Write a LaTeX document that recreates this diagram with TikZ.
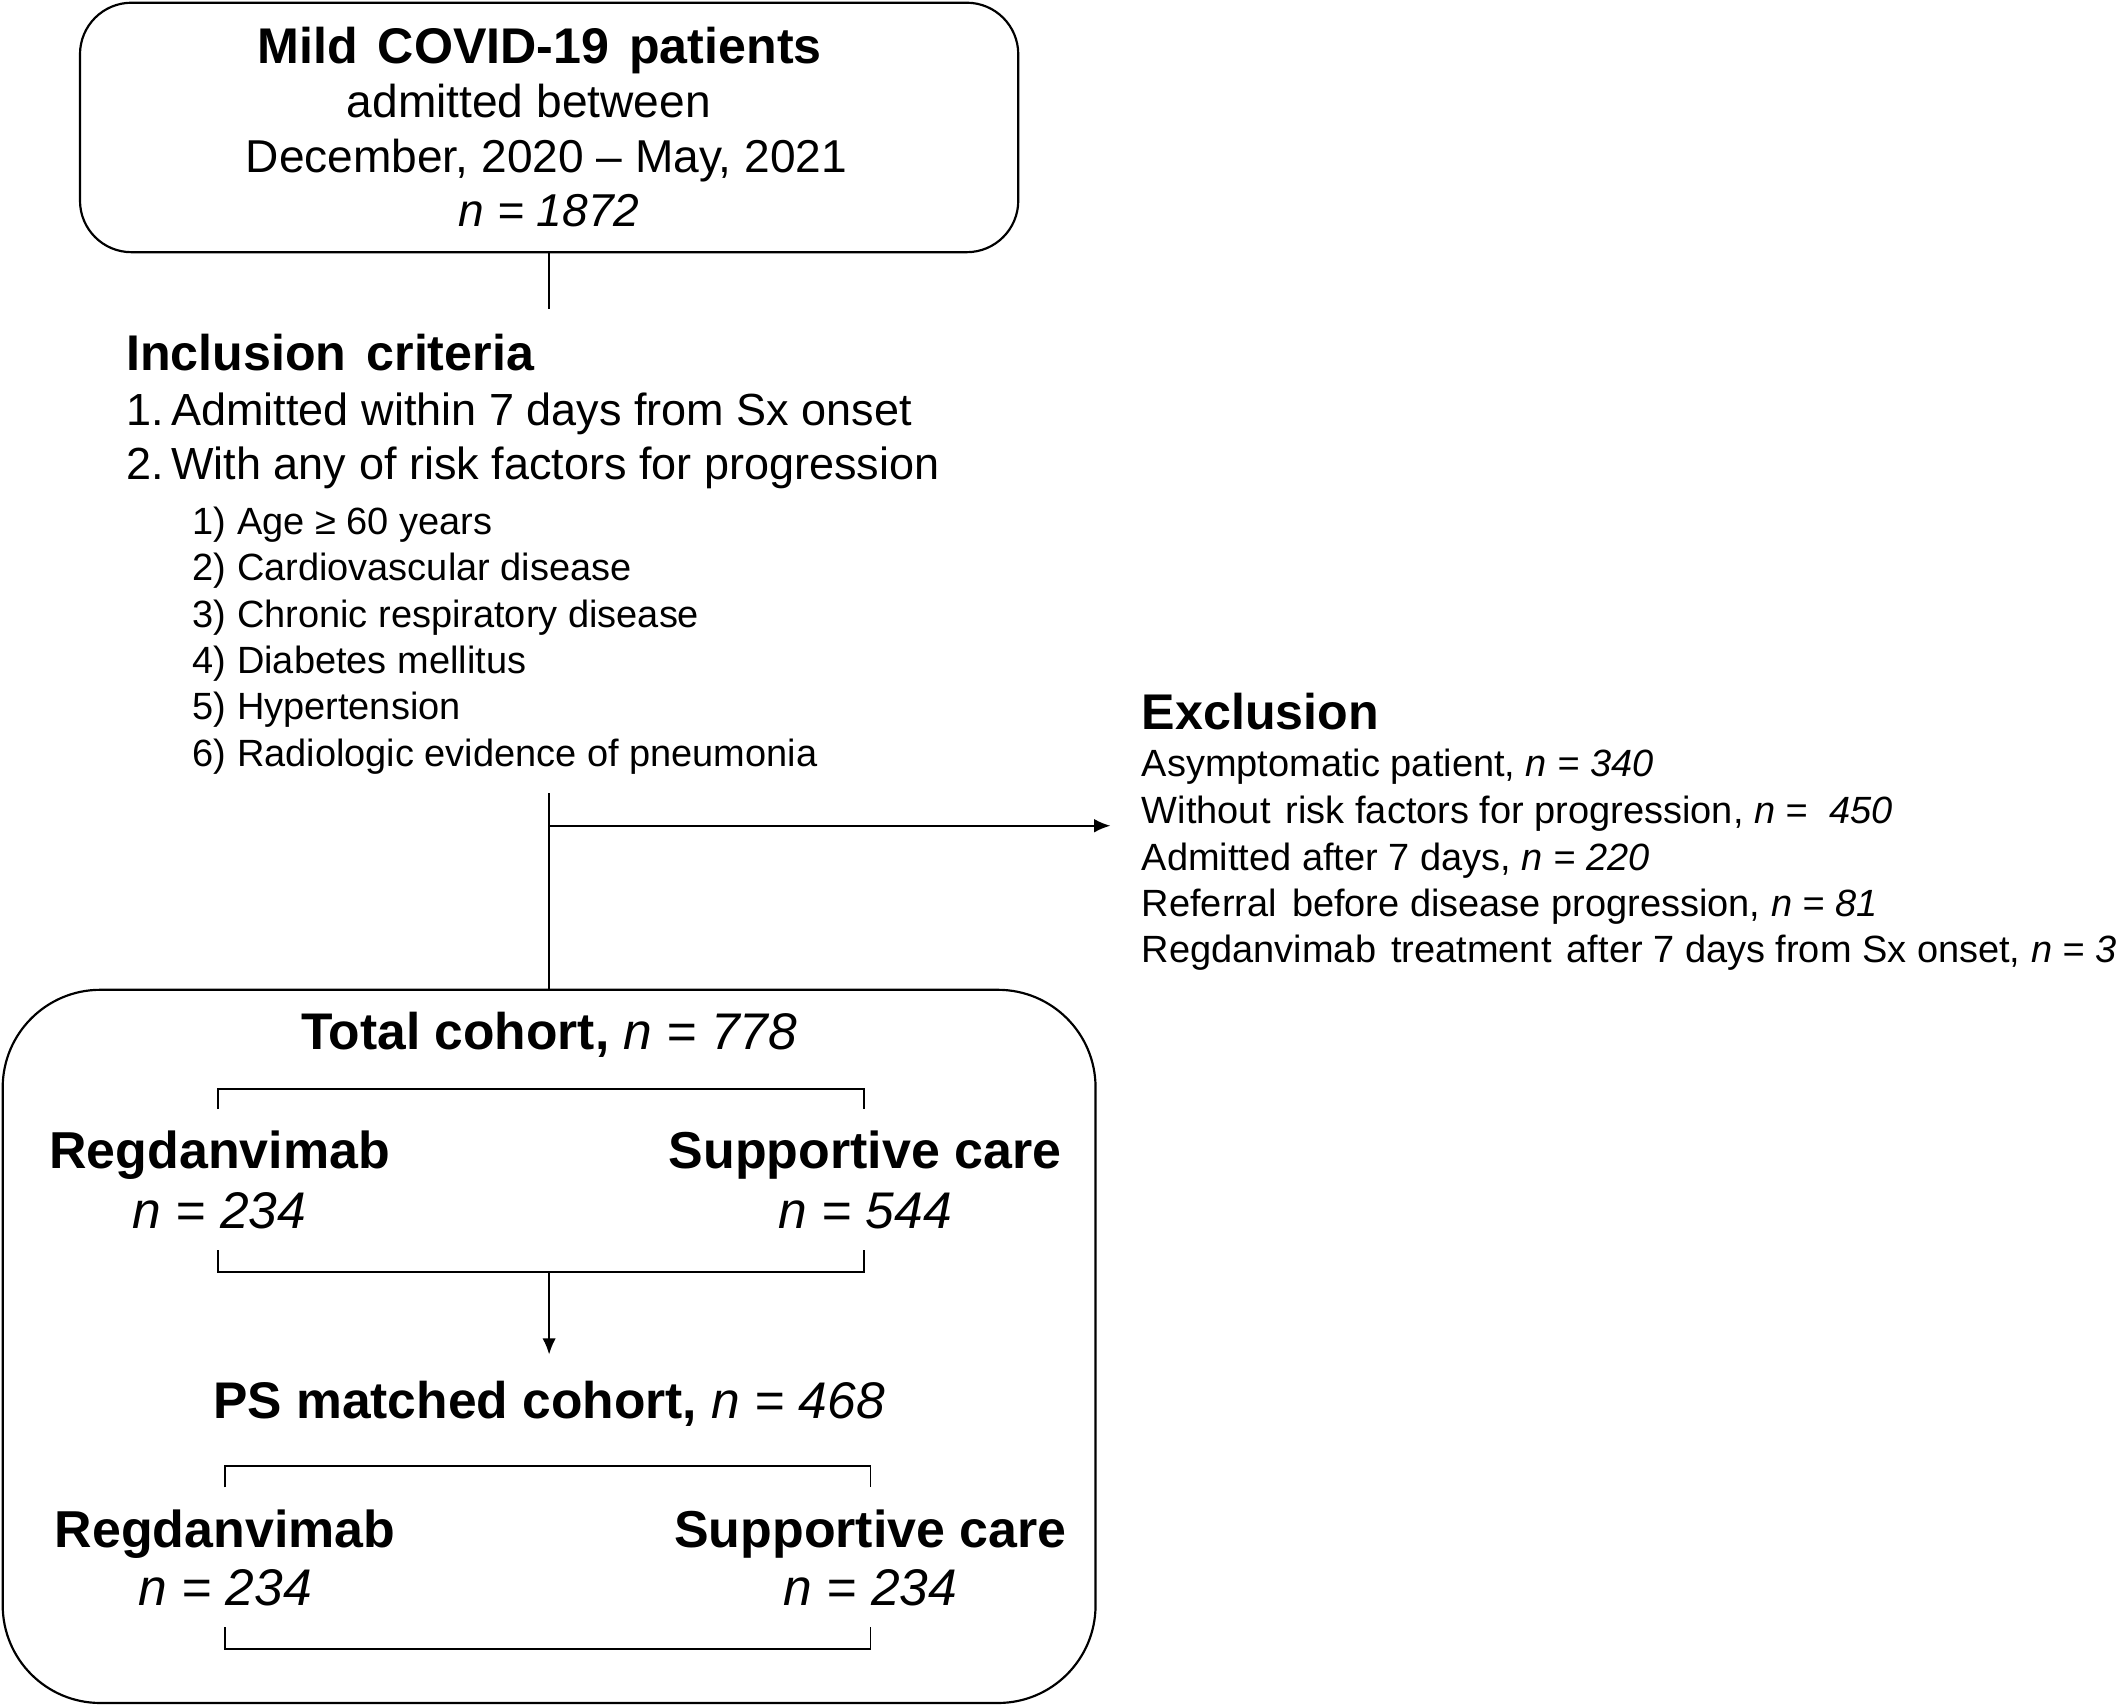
\documentclass[tikz,border=0pt]{standalone}
\usepackage{fontspec}
\setmainfont{Liberation Sans}
\usetikzlibrary{arrows.meta}
\tikzset{
  hd/.style={font=\fontsize{37}{44}\selectfont\bfseries, inner sep=0pt},
  bhd/.style={font=\fontsize{38.3}{44}\selectfont\bfseries, inner sep=0pt},
  tx/.style={font=\fontsize{34}{40}\selectfont, inner sep=0pt},
  itx/.style={font=\fontsize{33.2}{40}\selectfont, inner sep=0pt},
  sm/.style={font=\fontsize{28}{34}\selectfont, inner sep=0pt},
  bx/.style={font=\fontsize{38}{44}\selectfont, inner sep=0pt},
  ln/.style={line width=1.4pt},
  frame/.style={draw, line width=1.6pt, inner sep=0pt},
  arr/.style={ln, -{Latex[length=12pt,width=10pt]}},
}
\begin{document}
\begin{tikzpicture}[x=1pt,y=1pt]
\useasboundingbox (0,0) rectangle (1568,-1259);
% top box
\node[frame, rounded corners=38pt, minimum width=692pt, minimum height=184pt] (top) at (405,-94) {};
\node[hd, anchor=base] (t1) at (398,-47) {Mild\hspace{0.4em}COVID-19\hspace{0.4em}patients};
\node[tx, anchor=base] (t2) at (390,-87) {admitted between};
\node[tx, anchor=base] (t3) at (403,-127) {December, 2020 – May, 2021};
\node[tx, anchor=base] (t4) at (405,-167) {\textit{n = 1872}};
% inclusion
\node[hd, anchor=base west] (inc) at (93,-273) {Inclusion\hspace{0.4em}criteria};
\node[itx, anchor=base west] (inc1) at (93,-314) {1.\,Admitted within 7 days from Sx onset};
\node[itx, anchor=base west] (inc2) at (93,-354) {2.\,With any of risk factors for progression};
\node[sm, anchor=base west] (r1) at (142,-394) {1) Age ≥ 60 years};
\node[sm, anchor=base west] (r2) at (142,-428) {2) Cardiovascular disease};
\node[sm, anchor=base west] (r3) at (142,-463) {3) Chronic respiratory disease};
\node[sm, anchor=base west] (r4) at (142,-497) {4) Diabetes mellitus};
\node[sm, anchor=base west] (r5) at (142,-531) {5) Hypertension};
\node[sm, anchor=base west] (r6) at (142,-565) {6) Radiologic evidence of pneumonia};
% exclusion
\node[hd, anchor=base west] (exc) at (842,-538) {Exclusion};
\node[sm, anchor=base west] (e1) at (842,-573) {Asymptomatic patient, \textit{n = 340}};
\node[sm, anchor=base west] (e2) at (842,-607) {Without\hspace{0.4em}risk factors for progression, \textit{n = \ 450}};
\node[sm, anchor=base west] (e3) at (842,-642) {Admitted after 7 days, \textit{n = 220}};
\node[sm, anchor=base west] (e4) at (842,-676) {Referral\hspace{0.4em}before disease progression, \textit{n = 81}};
\node[sm, anchor=base west] (e5) at (842,-710) {Regdanvimab\hspace{0.4em}treatment\hspace{0.4em}after 7 days from Sx onset, \textit{n = 3}};
% bottom box
\node[frame, rounded corners=72pt, minimum width=806pt, minimum height=526pt] (bot) at (405,-993) {};
\node[bx, anchor=base] (tc) at (405,-774) {\textbf{Total cohort,} \textit{n = 778}};
\node[bhd, anchor=base] (rg1) at (162,-862) {Regdanvimab};
\node[bx, anchor=base] (rn1) at (162,-906) {\textit{n = 234}};
\node[bhd, anchor=base] (sc1) at (638,-862) {Supportive care};
\node[bx, anchor=base] (sn1) at (638,-906) {\textit{n = 544}};
\node[bx, anchor=base] (ps) at (405,-1046) {\textbf{PS matched cohort,} \textit{n = 468}};
\node[bhd, anchor=base] (rg2) at (166,-1141) {Regdanvimab};
\node[bx, anchor=base] (rn2) at (166,-1184) {\textit{n = 234}};
\node[bhd, anchor=base] (sc2) at (642,-1141) {Supportive care};
\node[bx, anchor=base] (sn2) at (642,-1184) {\textit{n = 234}};
% connector points
\coordinate (c1) at (405,-228);
\coordinate (c2) at (405,-585);
\coordinate (c3) at (405,-609);
\coordinate (exarr) at (819,-609);
\coordinate (b1m) at (405,-938);
\coordinate (psarr) at (405,-999);
% connectors
\draw[ln] (top.south) -- (c1);
\draw[ln] (c2) -- (bot.north);
\draw[arr] (c3) -- (exarr);
\draw[arr] (b1m) -- (psarr);
% brackets
\draw[ln] (161,-818) -- (161,-803) -- (637,-803) -- (637,-818);
\draw[ln] (161,-922) -- (161,-938) -- (637,-938) -- (637,-922);
\draw[ln] (166,-1097) -- (166,-1081) -- (642,-1081) -- (642,-1097);
\draw[ln] (166,-1200) -- (166,-1216) -- (642,-1216) -- (642,-1200);
\end{tikzpicture}
\end{document}
